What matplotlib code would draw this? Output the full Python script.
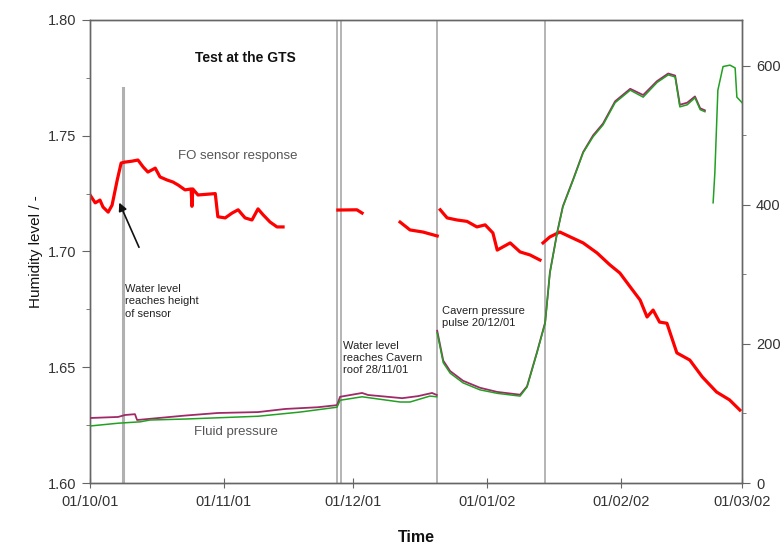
import datetime as dt
import numpy as np
import matplotlib
matplotlib.use('Agg')
import matplotlib.pyplot as plt
import matplotlib.dates as mdates
from matplotlib.ticker import MultipleLocator

plt.rcParams['font.family'] = ['Liberation Sans', 'DejaVu Sans']

start = dt.datetime(2001, 10, 1)
nan = np.nan

# FO sensor response (left axis), days after 01/10/01, nan = gap in record
fo_days = [0, 1.2, 2.3, 3.0, 4.2, 5.1, 6.3, 7.2, 8.1, 9.7, 11.1, 12.3, 13.4, 15.1,
           16.2, 17.8, 19.2, 20.4, 22.0, 23.4, 23.6, 23.8, 25.0, 29.0, 29.6, 31.3,
           32.9, 34.3, 35.9, 37.5, 38.9, 40.1, 41.7, 43.3, 44.7, 45.0,
           57.4, 61.8, 63.0, 63.5,
           71.8, 74.1, 77.1, 80.4, 80.6,
           81.1, 82.7, 85.0, 87.3, 89.6, 91.5, 93.3, 94.3, 97.3, 99.6, 101.9, 104.2, 104.5,
           104.9, 106.5, 108.8, 111.2, 114.2, 117.4, 120.4, 122.7, 125.1, 127.4,
           129.0, 130.4, 131.9, 133.6, 135.9, 138.9, 141.8, 145.1, 148.1, 150.5]
fo_level = [1.7244, 1.7210, 1.7222, 1.7192, 1.7170, 1.7200, 1.7309, 1.7382, 1.7386,
            1.7390, 1.7395, 1.7365, 1.7343, 1.7360, 1.7322, 1.7309, 1.7300, 1.7287,
            1.7266, 1.7270, 1.7195, 1.7270, 1.7244, 1.7250, 1.7150, 1.7145, 1.7166,
            1.7180, 1.7145, 1.7136, 1.7184, 1.7158, 1.7127, 1.7106, 1.7106, nan,
            1.7179, 1.7180, 1.7166, nan,
            1.7127, 1.7093, 1.7084, 1.7067, nan,
            1.7180, 1.7145, 1.7136, 1.7130, 1.7106, 1.7115, 1.7080, 1.7006, 1.7037,
            1.6998, 1.6985, 1.6963, nan,
            1.7037, 1.7063, 1.7084, 1.7063, 1.7037, 1.6994, 1.6942, 1.6907, 1.6847,
            1.6790, 1.6717, 1.6747, 1.6695, 1.6690, 1.6562, 1.6531, 1.6458, 1.6393,
            1.6359, 1.6315]

# fluid pressure, two sensors (right axis)
p1_days = [0, 6.5, 8.1, 10.4, 10.9, 22.0, 29.6, 38.9, 45.2, 52.8, 57.2, 57.9, 63.0,
           64.4, 72.3, 76.0, 79.2, 80.3, 80.35,
           80.4, 81.8, 83.4, 86.4, 90.3, 94.3, 99.6, 101.2, 103.5, 105.4, 106.5,
           108.2, 109.5, 111.9, 114.2, 116.5, 118.8, 121.6, 125.1, 128.1, 131.3,
           133.9, 135.5, 136.6, 138.3, 140.1, 141.3, 142.4]
p1_value = [93.5, 95, 97.8, 99, 90.6, 97, 100.7, 102, 106.5, 109, 112, 124, 129.5,
            126.6, 122, 125, 129.5, 126.6, nan,
            219, 176, 161, 147, 137, 131, 127, 139, 188, 231, 303, 361, 398, 437,
            476, 500, 517, 549, 567, 558, 578, 589, 586, 544, 547, 556, 539, 536]

p2_days = [0, 6.5, 11.6, 13.9, 22.0, 38.9, 48.6, 57.2, 57.9, 63.0, 71.8, 74.1, 78.7,
           80.3, 80.35,
           80.4, 81.8, 83.4, 86.4, 90.3, 94.3, 99.6, 101.2, 103.5, 105.4, 106.5,
           108.2, 109.5, 111.9, 114.2, 116.5, 118.8, 121.6, 125.1, 128.1, 131.3,
           133.9, 135.5, 136.6, 138.3, 140.1, 141.3, 142.4, 143.0,
           144.3, 144.7, 145.4, 146.6, 148.2, 149.4, 149.8, 151.0]
p2_value = [82, 86, 88, 90.6, 92, 96, 102, 109, 119, 124, 116.5, 116.5, 125,
            124, nan,
            216, 173, 158, 144, 134, 129, 125, 138, 187, 230, 302, 360, 397, 436,
            475, 498, 515, 547, 565, 555, 576, 587, 584, 541, 544, 554, 537, 534, nan,
            403, 446, 565, 599, 601, 597, 555, 547]

# events (days after 01/10/01)
event_days = [57.2, 58.1, 80.4, 105.4]
sensor_reached_day = 7.6

month_ticks = [dt.datetime(2001, 10, 1), dt.datetime(2001, 11, 1), dt.datetime(2001, 12, 1),
               dt.datetime(2002, 1, 1), dt.datetime(2002, 2, 1), dt.datetime(2002, 3, 1)]


def to_dates(days):
    return [start + dt.timedelta(days=d) for d in days]


fig = plt.figure(figsize=(7.83, 5.48), dpi=100)
ax = fig.add_axes([0.115, 0.1186, 0.8327, 0.845])
ax2 = ax.twinx()

tick_col = '#333333'
spine_col = '#666666'

# vertical event lines
ax.axvline(start + dt.timedelta(days=sensor_reached_day), ymin=0, ymax=0.853,
           color='#b0b0b0', lw=2.2, zorder=1)
for d in event_days:
    ax.axvline(start + dt.timedelta(days=d), color='#a8a8a8', lw=1.2, zorder=1)

ax2.plot(to_dates(p1_days), p1_value, color='#a02a68', lw=1.3, zorder=3)
ax2.plot(to_dates(p2_days), p2_value, color='#22a022', lw=1.1, zorder=4)
ax.plot(to_dates(fo_days), fo_level, color='#ff0000', lw=2.3, zorder=5)

ax.set_xlim(start, dt.datetime(2002, 3, 1))
ax.set_ylim(1.60, 1.80)
ax2.set_ylim(0, 666)

ax.set_xticks(month_ticks)
ax.xaxis.set_major_formatter(mdates.DateFormatter('%d/%m/%y'))
ax.yaxis.set_major_locator(MultipleLocator(0.05))
ax.yaxis.set_minor_locator(MultipleLocator(0.025))
ax.yaxis.set_major_formatter(plt.FormatStrFormatter('%.2f'))
ax2.set_yticks([0, 200, 400, 600])
ax2.yaxis.set_minor_locator(MultipleLocator(100))

ax.tick_params(axis='y', which='major', direction='out', length=6, labelsize=10.5,
               colors=spine_col, labelcolor=tick_col, pad=4)
ax.tick_params(axis='y', which='minor', direction='out', length=3, colors=spine_col)
ax.tick_params(axis='x', direction='inout', length=7, labelsize=10.5,
               colors=spine_col, labelcolor=tick_col, pad=5)
ax2.tick_params(axis='y', which='major', direction='out', length=6, labelsize=10.5,
                colors=spine_col, labelcolor=tick_col, pad=4)
ax2.tick_params(axis='y', which='minor', direction='out', length=3, colors=spine_col)

for a in (ax, ax2):
    for s in a.spines.values():
        s.set_color(spine_col)
        s.set_linewidth(1.0)

ax.set_ylabel('Humidity level / -', fontsize=11, color='#111111')
ax.yaxis.set_label_coords(-0.072, 0.5)
ax.set_xlabel('Time', fontsize=11.5, fontweight='bold', color='#111111', va='center')
ax.xaxis.set_label_coords(0.5, -0.118)

ax.text(start + dt.timedelta(days=35.9), 1.7836, 'Test at the GTS', fontsize=10,
        fontweight='bold', ha='center', va='center', color='#111111', zorder=6)
ax.text(start + dt.timedelta(days=20.4), 1.7413, 'FO sensor response', fontsize=9.5,
        ha='left', va='center', color='#555555', zorder=6)
ax.text(start + dt.timedelta(days=8.1), 1.6860, 'Water level\nreaches height\nof sensor',
        fontsize=8, ha='left', va='top', color='#222222', linespacing=1.3, zorder=6)
ax.text(start + dt.timedelta(days=58.5), 1.6615, 'Water level\nreaches Cavern\nroof 28/11/01',
        fontsize=8, ha='left', va='top', color='#222222', linespacing=1.3, zorder=6)
ax.text(start + dt.timedelta(days=81.5), 1.6765, 'Cavern pressure\npulse 20/12/01',
        fontsize=8, ha='left', va='top', color='#222222', linespacing=1.3, zorder=6)
ax.text(start + dt.timedelta(days=24.0), 1.6220, 'Fluid pressure', fontsize=9.5,
        ha='left', va='center', color='#555555', zorder=6)
ax.annotate('', xy=(start + dt.timedelta(days=6.5), 1.7222),
            xytext=(start + dt.timedelta(days=11.6), 1.7007),
            arrowprops=dict(arrowstyle='-|>', color='#111111', lw=1.2,
                            mutation_scale=12), zorder=6)

fig.savefig('out.png', dpi=100)
